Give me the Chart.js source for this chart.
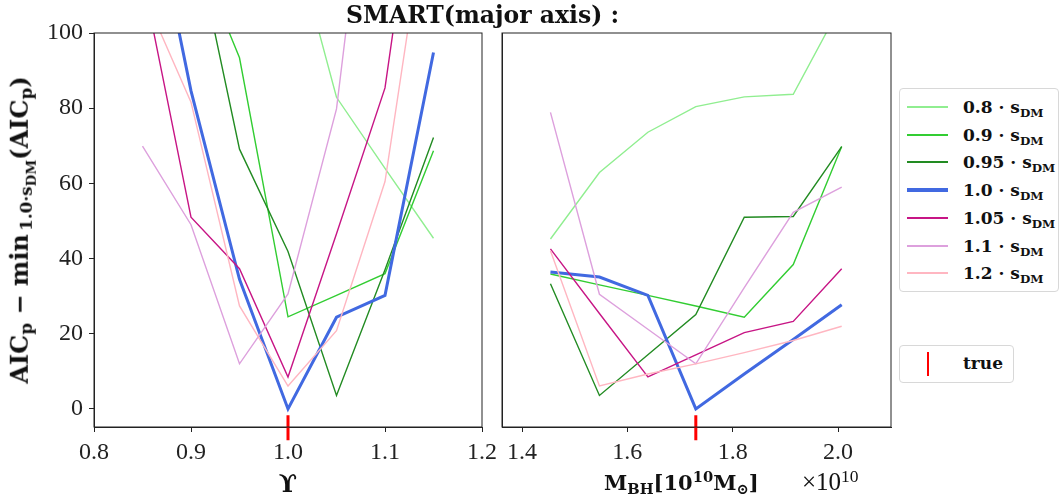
<!DOCTYPE html>
<html>
<head>
<meta charset="utf-8">
<script src="https://cdn.jsdelivr.net/npm/chart.js"></script>
<style>
  body { margin: 0; background: #fff; }
  #wrap { position: relative; width: 1063px; height: 503px; overflow: hidden; color: #111; font-family: 'DejaVu Serif', serif; }
  canvas { position: absolute; top: 0; }
  .lbl { position: absolute; white-space: nowrap; font-weight: bold; line-height: 1; }
  .legend { position: absolute; background: #fff; border: 1px solid #d8d8d8; border-radius: 4px; }
  .row { position: absolute; left: 0; height: 20px; }
  .swatch { position: absolute; left: 7px; width: 41px; }
  .txt { position: absolute; left: 63px; top: 0; font-weight: bold; font-size: 17px; white-space: nowrap; }
  sub { font-size: 70%; vertical-align: -4px; }
  sup { font-size: 70%; vertical-align: 8px; }
</style>
</head>
<body>
<div id="wrap">
  <canvas id="left" width="530" height="503" style="left:0"></canvas>
  <canvas id="right" width="400" height="503" style="left:495px"></canvas>

  <div class="lbl" style="left:346px; top:4px; font-size:23.5px;">SMART(major axis) :</div>
  <div class="lbl" style="left:23px; top:230px; font-size:24px; transform: translate(-50%,-50%) rotate(-90deg);">AIC<sub>p</sub> &minus; min<sub>&thinsp;1.0&middot;s<sub style="font-size:80%">DM</sub></sub>(AIC<sub>p</sub>)</div>
  <div class="lbl" style="left:288px; top:472px; font-size:24px; transform: translateX(-50%);">&#x03D2;</div>
  <div class="lbl" style="left:604px; top:470px; font-size:21px;">M<sub>BH</sub>[10<sup>10</sup>M<sub>&#x2299;</sub>]</div>
  <div class="lbl" style="left:802px; top:468px; font-size:25px; font-weight:normal; font-family:'Liberation Serif', serif;">&times;10<sup>10</sup></div>

  <div class="legend" id="legend" style="left:899px; top:88px; width:158px; height:202px;"></div>
  <div class="legend" style="left:899px; top:345px; width:113px; height:36px;">
    <div style="position:absolute; left:27px; top:6px; width:2px; height:24px; background:#ff0000;"></div>
    <div class="txt" style="top:7px;">true</div>
  </div>
</div>
<script>
// x positions of the fits
const upsilon = [0.85, 0.9, 0.95, 1.0, 1.05, 1.1, 1.15];
const mbh = [1.454, 1.547, 1.639, 1.730, 1.822, 1.915, 2.007]; // x 1e10

const seriesLabels = ['0.8', '0.9', '0.95', '1.0', '1.05', '1.1', '1.2'];

// left panel: AIC difference vs upsilon
const s08Left  = [null, null, null, 131, 82.9, 64, 45.4];
const s09Left  = [null, 125, 93.4, 24.5, 30.2, 36, 68.7];
const s095Left = [null, 130, 69.1, 41.9, 3.6, 37, 72.2];
const s10Left  = [148, 84.6, 34.5, 0, 24.4, 30.2, 94.8];
const s105Left = [115, 51, 37.3, 8.5, 46.6, 85.4, 176];
const s11Left  = [69.9, 49, 12, 30.6, 79.8, 186, null];
const s12Left  = [111, 81.6, 27.4, 6.1, 20.8, 60.5, 146];

// right panel: AIC difference vs black hole mass
const s08Right  = [45.2, 62.9, 73.6, 80.4, 83.0, 83.7, 107.7];
const s09Right  = [35.9, 33.0, 30.2, 27.4, 24.4, 38.4, 69.8];
const s095Right = [33.3, 3.6, 14.4, 25.1, 51.0, 51.2, 69.8];
const s10Right  = [36.4, 35.1, 30.2, 0, 9.3, 18.5, 27.7];
const s105Right = [42.6, 25.4, 8.5, 14.4, 20.3, 23.3, 37.3];
const s11Right  = [78.9, 30.5, 21.2, 12.0, 32.3, 52.3, 59.0];
const s12Right  = [42.1, 6.1, 9.3, 12.0, 15.0, 18.2, 22.0];

const trueUpsilon = 1.0;
const trueMbh = 1.73;
const trueMark = [-1.7, -8.3];

const upsTicks = [0.8, 0.9, 1.0, 1.1, 1.2];
const mbhTicks = [1.4, 1.6, 1.8, 2.0];
const yTicks = [0, 20, 40, 60, 80, 100];

const leftSeries = [s08Left, s09Left, s095Left, s10Left, s105Left, s11Left, s12Left];
const rightSeries = [s08Right, s09Right, s095Right, s10Right, s105Right, s11Right, s12Right];

const colors = ['#90ee90', '#32cd32', '#228b22', '#4169e1', '#c71585', '#dda0dd', '#ffb6c1'];
const widths = [1.4, 1.4, 1.4, 3, 1.4, 1.4, 1.4];

const axisColor = '#222';
const tickFont = { family: 'Liberation Serif', size: 24 };

const frame = {
  id: 'frame',
  afterDraw(chart) {
    const a = chart.chartArea, c = chart.ctx;
    c.save();
    c.strokeStyle = axisColor;
    c.lineWidth = 1;
    c.strokeRect(a.left, a.top, a.right - a.left, a.bottom - a.top);
    c.restore();
  }
};

function makeDatasets(xs, series, trueX) {
  const ds = series.map((vals, i) => ({
    label: seriesLabels[i],
    data: xs.map((x, j) => ({ x: x, y: vals[j] })),
    borderColor: colors[i],
    borderWidth: widths[i],
    pointRadius: 0,
    fill: false,
    tension: 0,
    order: 20 - i
  }));
  ds.push({
    label: 'true',
    data: trueMark.map(v => ({ x: trueX, y: v })),
    borderColor: '#ff0000',
    borderWidth: 3,
    pointRadius: 0,
    clip: false,
    order: 0
  });
  return ds;
}

function makeChart(id, xs, series, trueX, xMin, xMax, xTickVals, left, rightPad, showY) {
  return new Chart(document.getElementById(id), {
    type: 'line',
    data: { datasets: makeDatasets(xs, series, trueX) },
    plugins: [frame],
    options: {
      responsive: false,
      animation: false,
      devicePixelRatio: 1,
      layout: { padding: { top: 33, right: rightPad, left: 0, bottom: 0 } },
      plugins: { legend: { display: false }, tooltip: { enabled: false } },
      scales: {
        x: {
          type: 'linear',
          min: xMin,
          max: xMax,
          afterBuildTicks: s => { s.ticks = xTickVals.map(v => ({ value: v })); },
          afterFit: s => { s.height = 76; },
          grid: { drawOnChartArea: false, tickLength: 5, color: axisColor },
          border: { color: axisColor },
          ticks: { font: tickFont, color: axisColor, padding: 6, maxRotation: 0, callback: v => v.toFixed(1) }
        },
        y: {
          min: -4.8,
          max: 100,
          afterBuildTicks: s => { s.ticks = showY ? yTicks.map(v => ({ value: v })) : []; },
          afterFit: s => { s.width = left; },
          grid: { drawOnChartArea: false, display: showY, tickLength: 5, color: axisColor },
          border: { display: true, color: axisColor },
          ticks: { display: showY, font: tickFont, color: axisColor, padding: 6 }
        }
      }
    }
  });
}

makeChart('left', upsilon, leftSeries, trueUpsilon, 0.8, 1.2, upsTicks, 94, 48, true);
makeChart('right', mbh, rightSeries, trueMbh, 1.362, 2.1006, mbhTicks, 7, 4, false);

// legend
const legend = document.getElementById('legend');
seriesLabels.forEach((lab, i) => {
  const row = document.createElement('div');
  row.className = 'row';
  row.style.top = Math.round(8 + i * 27.7) + 'px';
  const h = widths[i] > 2 ? 4 : 2;
  row.innerHTML = '<div class="swatch" style="height:' + h + 'px;background:' + colors[i] + ';top:' + (10 - h / 2) + 'px"></div>' +
    '<div class="txt">' + lab + ' &middot; s<sub>DM</sub></div>';
  legend.appendChild(row);
});
</script>
</body>
</html>
